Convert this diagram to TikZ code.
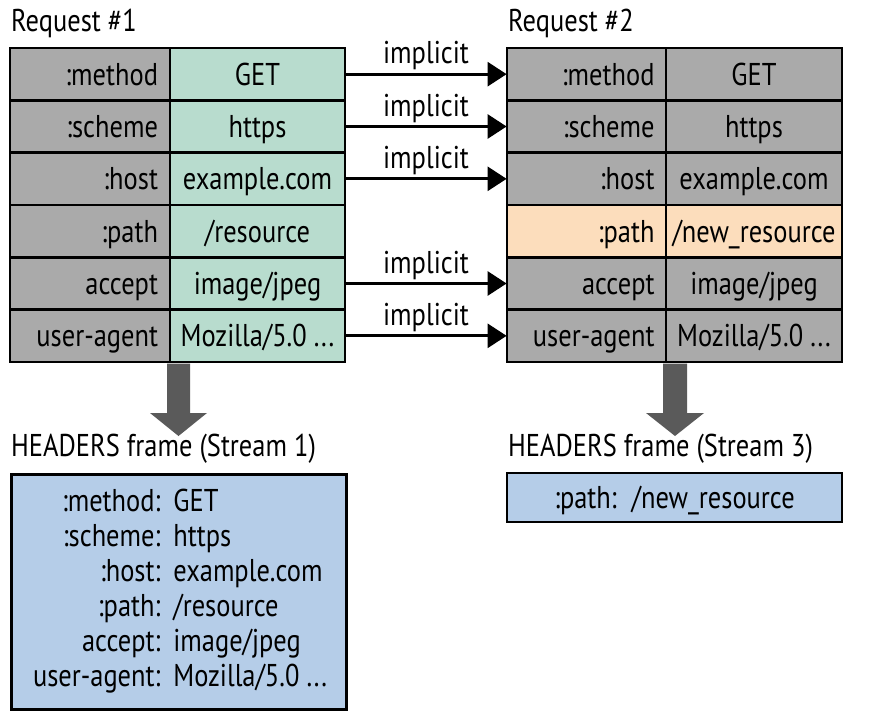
\documentclass[tikz,border=0pt]{standalone}
\usepackage{fontspec}
\setmainfont{PT Sans}[FakeStretch=0.84]
\usepackage{array}
\usetikzlibrary{arrows.meta,calc}
\definecolor{keygray}{RGB}{170,170,170}
\definecolor{valgreen}{RGB}{184,220,206}
\definecolor{pathorange}{RGB}{252,221,188}
\definecolor{frameblue}{RGB}{181,205,232}
\definecolor{blockgray}{RGB}{90,90,90}
\newcolumntype{R}[1]{>{\raggedleft\arraybackslash}p{#1}}
\newcolumntype{L}[1]{>{\raggedright\arraybackslash}p{#1}}
\tikzset{
  celltxt/.style={font=\fontsize{31.5}{35}\selectfont},
  cellbase/.style={celltxt, draw=black, line width=2.8pt, minimum height=52.33pt, inner sep=0pt, text height=22pt, text depth=0pt},
  keycell/.style={cellbase, fill=keygray, minimum width=#1, text width=136pt, align=right},
  valcell/.style={cellbase, fill=valgreen, minimum width=175pt},
  rvalcell/.style={cellbase, fill=keygray, minimum width=176pt},
  heading/.style={celltxt, anchor=base west, inner sep=0pt},
  conn/.style={line width=2.8pt, -{Triangle[length=19pt,width=24pt]}, shorten >=-1pt},
  imp/.style={celltxt, above=9pt, inner sep=0pt, text depth=0pt},
  blockarrow/.style={fill=blockgray},
  framebox/.style={celltxt, draw=black, line width=2.8pt, fill=frameblue, inner sep=0pt}
}
\begin{document}
\begin{tikzpicture}[x=1pt,y=-1pt]
\useasboundingbox (0,0) rectangle (869,714);
\fill[white] (0,0) rectangle (869,714);

% headings
\node[heading] (h1) at (11,32) {Request \#1};
\node[heading] (h2) at (508,32) {Request \#2};

% left table
\node[keycell=160pt] (lk1) at (90,74.17) {:method};
\node[keycell=160pt] (lk2) at (90,126.5) {:scheme};
\node[keycell=160pt] (lk3) at (90,178.83) {:host};
\node[keycell=160pt] (lk4) at (90,231.17) {:path};
\node[keycell=160pt] (lk5) at (90,283.5) {accept};
\node[keycell=160pt] (lk6) at (90,335.83) {user-agent};
\node[valcell] (lv1) at (257.5,74.17) {GET};
\node[valcell] (lv2) at (257.5,126.5) {https};
\node[valcell] (lv3) at (257.5,178.83) {example.com};
\node[valcell] (lv4) at (257.5,231.17) {/resource};
\node[valcell] (lv5) at (257.5,283.5) {image/jpeg};
\node[valcell] (lv6) at (257.5,335.83) {Mozilla/5.0 ...};

% right table
\node[keycell=159pt] (rk1) at (586.5,74.17) {:method};
\node[keycell=159pt] (rk2) at (586.5,126.5) {:scheme};
\node[keycell=159pt] (rk3) at (586.5,178.83) {:host};
\node[keycell=159pt, fill=pathorange] (rk4) at (586.5,231.17) {:path};
\node[keycell=159pt] (rk5) at (586.5,283.5) {accept};
\node[keycell=159pt] (rk6) at (586.5,335.83) {user-agent};
\node[rvalcell] (rv1) at (754,74.17) {GET};
\node[rvalcell] (rv2) at (754,126.5) {https};
\node[rvalcell] (rv3) at (754,178.83) {example.com};
\node[rvalcell, fill=pathorange] (rv4) at (754,231.17) {/new\_resource};
\node[rvalcell] (rv5) at (754,283.5) {image/jpeg};
\node[rvalcell] (rv6) at (754,335.83) {Mozilla/5.0 ...};

% implicit connectors
\draw[conn] (lv1.east) -- node[imp] {implicit} (rk1.west);
\draw[conn] (lv2.east) -- node[imp] {implicit} (rk2.west);
\draw[conn] (lv3.east) -- node[imp] {implicit} (rk3.west);
\draw[conn] (lv5.east) -- node[imp] {implicit} (rk5.west);
\draw[conn] (lv6.east) -- node[imp] {implicit} (rk6.west);

% block arrows
\fill[blockarrow] (167,363.5) -- (190,363.5) -- (190,413) -- (207,413) -- (178.5,436) -- (150,413) -- (167,413) -- cycle;
\fill[blockarrow] (663,363.5) -- (687,363.5) -- (687,413) -- (704,413) -- (675,436) -- (646,413) -- (663,413) -- cycle;

% frame headings
\node[heading] (f1) at (11,456) {HEADERS frame (Stream 1)};
\node[heading] (f2) at (508,456) {HEADERS frame (Stream 3)};

% frame boxes
\node[framebox, anchor=north west, minimum width=335pt, minimum height=235pt] (b1) at (10,473) {%
\begin{tabular}{@{}R{149pt}@{\hspace{13pt}}L{173pt}@{}}
:method: & GET\\
:scheme: & https\\
:host: & example.com\\
:path: & /resource\\
accept: & image/jpeg\\
user-agent: & Mozilla/5.0 ...
\end{tabular}};
\node[framebox, minimum width=335pt, minimum height=49pt, text height=22pt, text depth=0pt] (b2) at (674.5,497.5) {:path:\hspace{15pt}/new\_resource};
\end{tikzpicture}
\end{document}
